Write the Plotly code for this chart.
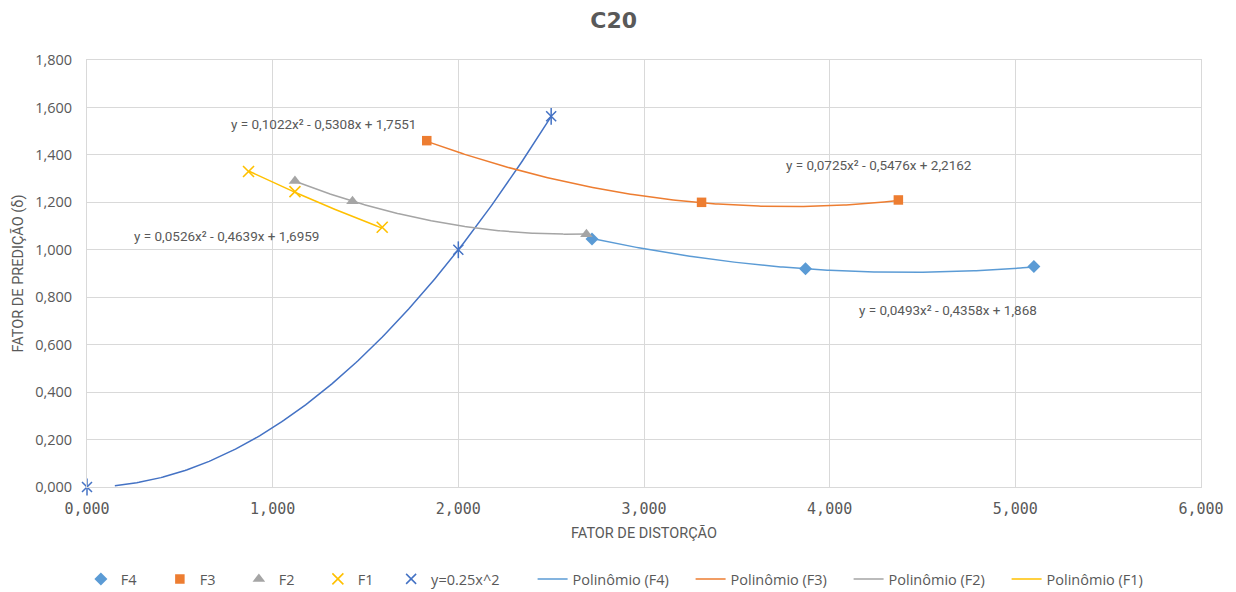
import numpy as np
import plotly.graph_objects as go

# ---- data ----
f4_x = [2.72, 3.87, 5.10]
f4_y = [1.045, 0.920, 0.930]
f3_x = [1.83, 3.31, 4.37]
f3_y = [1.460, 1.200, 1.210]
f2_x = [1.12, 1.43, 2.69]
f2_y = [1.290, 1.205, 1.065]
f1_x = [0.87, 1.12, 1.59]
f1_y = [1.330, 1.245, 1.095]
ref_x = [0.0, 2.0, 2.5]
ref_y = [0.0, 1.0, 1.5625]

# trendline coefficients (a, b, c) as printed on the chart
coef_f4 = [0.0493, -0.4358, 1.868]
coef_f3 = [0.0725, -0.5476, 2.2162]
coef_f2 = [0.1022, -0.5308, 1.7551]
coef_f1 = [0.0526, -0.4639, 1.6959]
coef_ref = [0.25, 0.0, 0.0]
ref_curve_start = 0.15

eq_texts = ["y = 0,0493x² - 0,4358x + 1,868",
            "y = 0,0725x² - 0,5476x + 2,2162",
            "y = 0,1022x² - 0,5308x + 1,7551",
            "y = 0,0526x² - 0,4639x + 1,6959"]
eq_pos = [(4.640, 0.746), (4.263, 1.357), (1.274, 1.530), (0.753, 1.058)]

x_ticks = [0, 1, 2, 3, 4, 5, 6]
x_ticktext = ["0,000", "1,000", "2,000", "3,000", "4,000", "5,000", "6,000"]
y_ticks = [0, 0.2, 0.4, 0.6, 0.8, 1.0, 1.2, 1.4, 1.6, 1.8]
y_ticktext = ["0,000", "0,200", "0,400", "0,600", "0,800", "1,000", "1,200", "1,400", "1,600", "1,800"]

C_F4 = "#5B9BD5"
C_F3 = "#ED7D31"
C_F2 = "#A5A5A5"
C_F1 = "#FFC000"
C_REF = "#4472C4"
TXT = "#595959"
FONT = "Open Sans"
NARROW = "Liberation Sans Narrow, Roboto"


def poly(coef, x0, x1, n=200):
    xs = np.linspace(x0, x1, n)
    return xs, coef[0] * xs ** 2 + coef[1] * xs + coef[2]


fig = go.Figure()

# reference curve (no legend)
rx, ry = poly(coef_ref, ref_curve_start, max(ref_x))
fig.add_trace(go.Scatter(x=rx, y=ry, mode="lines", line=dict(color=C_REF, width=1.5),
                         showlegend=False, hoverinfo="skip"))

# trendlines (drawn under markers), in their own legend
for name, coef, xs, col in [("Polinômio (F4)", coef_f4, f4_x, C_F4),
                            ("Polinômio (F3)", coef_f3, f3_x, C_F3),
                            ("Polinômio (F2)", coef_f2, f2_x, C_F2),
                            ("Polinômio (F1)", coef_f1, f1_x, C_F1)]:
    tx, ty = poly(coef, min(xs), max(xs))
    fig.add_trace(go.Scatter(x=tx, y=ty, mode="lines", name=name, legend="legend2",
                             line=dict(color=col, width=1.5)))

fig.add_trace(go.Scatter(x=f4_x, y=f4_y, mode="markers", name="F4", cliponaxis=False,
                         marker=dict(symbol="diamond", size=10, color=C_F4)))
fig.add_trace(go.Scatter(x=f3_x, y=f3_y, mode="markers", name="F3", cliponaxis=False,
                         marker=dict(symbol="square", size=9.5, color=C_F3)))
fig.add_trace(go.Scatter(x=f2_x, y=f2_y, mode="markers", name="F2", cliponaxis=False,
                         marker=dict(symbol="triangle-up", size=11, color=C_F2)))
fig.add_trace(go.Scatter(x=f1_x, y=f1_y, mode="markers", name="F1", cliponaxis=False,
                         marker=dict(symbol="x-thin-open", size=11, color=C_F1,
                                     line=dict(color=C_F1, width=1.6))))
fig.add_trace(go.Scatter(x=ref_x, y=ref_y, mode="markers", name="y=0.25x^2",
                         legend="legend3", legendgroup="ref", cliponaxis=False,
                         marker=dict(symbol="x-thin-open", size=10, color=C_REF,
                                     line=dict(color=C_REF, width=1.5))))
fig.add_trace(go.Scatter(x=ref_x, y=ref_y, mode="markers", showlegend=False,
                         legend="legend3", legendgroup="ref", hoverinfo="skip",
                         cliponaxis=False,
                         marker=dict(symbol="line-ns-open", size=12, color=C_REF,
                                     line=dict(color=C_REF, width=1.5))))

for txt, (ax, ay) in zip(eq_texts, eq_pos):
    fig.add_annotation(x=ax, y=ay, text=txt, showarrow=False,
                       font=dict(family=NARROW, size=13.5, color=TXT))

legend_common = dict(orientation="h", yref="container", yanchor="middle", y=0.022,
                     xanchor="left",
                     font=dict(family=FONT, size=14.5, color=TXT),
                     traceorder="normal", entrywidthmode="pixels",
                     bgcolor="rgba(0,0,0,0)", tracegroupgap=0)

fig.update_layout(
    width=1236, height=592,
    paper_bgcolor="white", plot_bgcolor="white",
    margin=dict(l=87, r=32, t=60, b=105),
    title=dict(text="<b>C20</b>", x=0.4965, xref="container", xanchor="center",
               y=0.966, yanchor="middle",
               font=dict(family="DejaVu Sans", size=22, color=TXT)),
    font=dict(family=FONT, size=12, color=TXT),
    legend=dict(legend_common, x=-0.0055, entrywidth=34),
    legend3=dict(legend_common, x=0.273),
    legend2=dict(legend_common, x=0.400, entrywidth=113),
    showlegend=True,
)
fig.update_xaxes(range=[0, 6], tickvals=x_ticks, ticktext=x_ticktext,
                 showgrid=True, gridcolor="#D9D9D9", gridwidth=1,
                 zeroline=False, showline=True, linecolor="#D9D9D9", mirror=True,
                 ticks="", ticklabelstandoff=8,
                 tickfont=dict(family="DejaVu Sans Mono", size=15, color=TXT),
                 title=dict(text="FATOR DE DISTORÇÃO", standoff=10,
                            font=dict(family=NARROW, size=14.5, color=TXT)))
fig.update_yaxes(range=[0, 1.8], tickvals=y_ticks, ticktext=y_ticktext,
                 showgrid=True, gridcolor="#D9D9D9", gridwidth=1,
                 zeroline=False, showline=True, linecolor="#D9D9D9", mirror=True,
                 ticks="", ticklabelstandoff=11,
                 tickfont=dict(family=FONT, size=14.5, color=TXT),
                 title=dict(text="FATOR DE PREDIÇÃO (δ)", standoff=8,
                            font=dict(family=NARROW, size=14.5, color=TXT)))

fig.write_html("out.html")
